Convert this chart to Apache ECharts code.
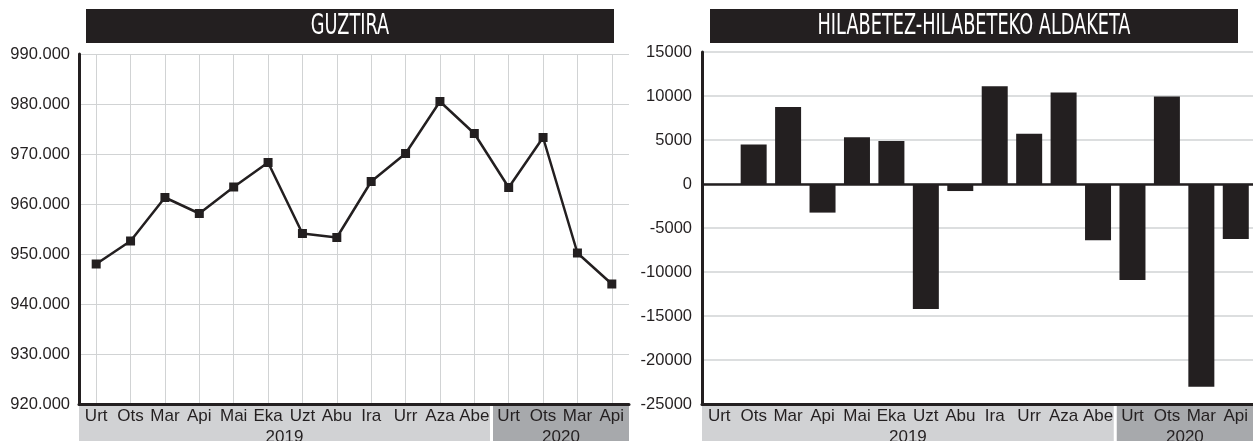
<!DOCTYPE html>
<html>
<head>
<meta charset="utf-8">
<script src="https://cdn.jsdelivr.net/npm/echarts@6/dist/echarts.min.js"></script>
<style>
html, body { margin: 0; padding: 0; background: #fff; }
#chart { width: 1253px; height: 441px; }
</style>
</head>
<body>
<div id="chart"></div>
<script>
// hilabeteak
var months = ['Urt', 'Ots', 'Mar', 'Api', 'Mai', 'Eka', 'Uzt', 'Abu', 'Ira', 'Urr', 'Aza', 'Abe', 'Urt', 'Ots', 'Mar', 'Api'];
var yearNames = ['2019', '2020'];
var yearFirst = [0, 12];
var yearLast = [11, 15];
// guztira
var totals = [948000, 952600, 961300, 958100, 963400, 968300, 954100, 953300, 964500, 970100, 980500, 974100, 963300, 973300, 950200, 944000];
// hilabetez-hilabeteko aldaketa
var changes = [0, 4500, 8750, -3250, 5300, 4900, -14200, -800, 11100, 5700, 10400, -6400, -10900, 9950, -23050, -6250];
// ardatzak: min, max, tartea
var totalAxis = [920000, 990000, 10000];
var changeAxis = [-25000, 15000, 5000];
var titles = ['GUZTIRA', 'HILABETEZ-HILABETEKO ALDAKETA'];

var ink = '#231f20';
var gridGrey = '#d1d3d4';
var font = "'Liberation Sans', Arial, sans-serif";
var titleFont = "'DejaVu Sans Condensed', sans-serif";

function dots(v) {
    return String(v).replace(/\B(?=(\d{3})+(?!\d))/g, '.');
}

var chart = echarts.init(document.getElementById('chart'));

var option = {
    animation: false,
    grid: [
        { left: 79, right: 624, top: 54, bottom: 37 },
        { left: 702, right: 0, top: 52, bottom: 37 }
    ],
    xAxis: [
        {
            type: 'category', gridIndex: 0, data: months, boundaryGap: true,
            axisLine: { onZero: false, lineStyle: { color: ink, width: 3 } },
            axisTick: { show: false },
            axisLabel: { interval: 0, color: ink, fontFamily: font, fontSize: 17, margin: 4 },
            splitLine: { show: true, interval: 0, alignWithLabel: true, lineStyle: { color: gridGrey, width: 1 } }
        },
        {
            type: 'category', gridIndex: 1, data: months, boundaryGap: true,
            axisLine: { onZero: false, lineStyle: { color: ink, width: 3 } },
            axisTick: { show: false },
            axisLabel: { interval: 0, color: ink, fontFamily: font, fontSize: 17, margin: 4 },
            splitLine: { show: false }
        }
    ],
    yAxis: [
        {
            type: 'value', gridIndex: 0,
            min: totalAxis[0], max: totalAxis[1], interval: totalAxis[2],
            axisLine: { show: true, lineStyle: { color: ink, width: 3 } },
            axisTick: { show: false },
            axisLabel: { color: ink, fontFamily: font, fontSize: 16.5, margin: 9, formatter: dots },
            splitLine: { lineStyle: { color: gridGrey, width: 1 } }
        },
        {
            type: 'value', gridIndex: 1,
            min: changeAxis[0], max: changeAxis[1], interval: changeAxis[2],
            axisLine: { show: true, lineStyle: { color: ink, width: 3 } },
            axisTick: { show: false },
            axisLabel: { color: ink, fontFamily: font, fontSize: 16.5, margin: 10, formatter: function (v) { return String(v); } },
            splitLine: { lineStyle: { color: gridGrey, width: 1.5 } }
        }
    ],
    series: [
        {
            name: titles[0], type: 'line', xAxisIndex: 0, yAxisIndex: 0,
            data: totals,
            symbol: 'rect', symbolSize: 9,
            lineStyle: { color: ink, width: 2.5 },
            itemStyle: { color: ink }
        },
        {
            name: titles[1], type: 'bar', xAxisIndex: 1, yAxisIndex: 1,
            data: changes,
            barWidth: 26,
            itemStyle: { color: ink },
            markLine: {
                silent: true, symbol: ['none', 'none'],
                label: { show: false },
                lineStyle: { color: ink, width: 2.5, type: 'solid' },
                data: [{ yAxis: 0 }]
            }
        }
    ]
};
chart.setOption(option);

// goiburuak eta urteen bandak
var graphics = [];
var bars = [[86, 528], [710, 528]];
bars.forEach(function (b, i) {
    graphics.push({ type: 'rect', shape: { x: b[0], y: 9, width: b[1], height: 34 }, style: { fill: ink } });
    graphics.push({
        type: 'text', x: b[0] + b[1] / 2, y: 26, scaleX: 0.68,
        style: {
            text: titles[i], fill: '#fff', font: '29px ' + titleFont,
            align: 'center', verticalAlign: 'middle', textAlign: 'center', textVerticalAlign: 'middle'
        }
    });
});

[0, 1].forEach(function (g) {
    var c0 = chart.convertToPixel({ xAxisIndex: g }, 0);
    var c1 = chart.convertToPixel({ xAxisIndex: g }, 1);
    var bw = c1 - c0;
    var base = chart.convertToPixel({ yAxisIndex: g }, g === 0 ? totalAxis[0] : changeAxis[0]);
    var top = base + 1.5;
    yearNames.forEach(function (name, i) {
        var x0 = chart.convertToPixel({ xAxisIndex: g }, yearFirst[i]) - bw / 2 + (i > 0 ? 1.5 : 0);
        var x1 = chart.convertToPixel({ xAxisIndex: g }, yearLast[i]) + bw / 2 - (i < yearNames.length - 1 ? 1.5 : 0);
        graphics.push({
            type: 'rect', z: -10,
            shape: { x: x0, y: top, width: x1 - x0, height: 441 - top },
            style: { fill: i === 0 ? '#d1d2d4' : '#a7a9ac' }
        });
        graphics.push({
            type: 'text', x: (x0 + x1) / 2, y: top + 23,
            style: {
                text: name, fill: ink, font: '17px ' + font,
                align: 'center', verticalAlign: 'top', textAlign: 'center', textVerticalAlign: 'top'
            }
        });
    });
});

chart.setOption({ graphic: graphics });
</script>
</body>
</html>
